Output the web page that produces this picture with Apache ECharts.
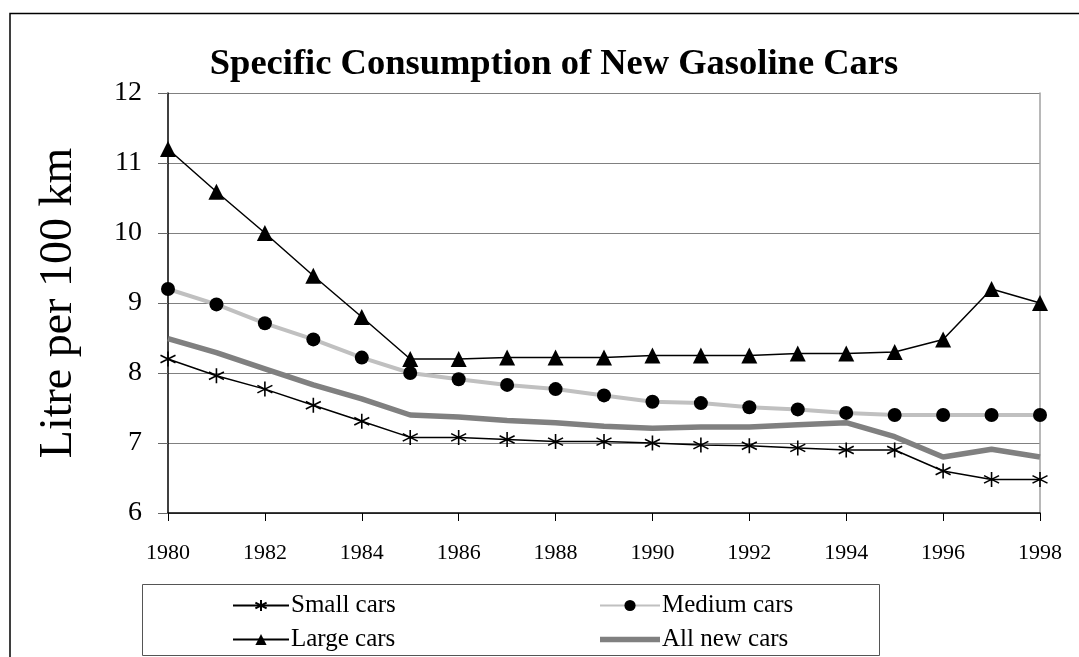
<!DOCTYPE html>
<html>
<head>
<meta charset="utf-8">
<script src="https://cdn.jsdelivr.net/npm/echarts@6/dist/echarts.min.js"></script>
<style>
  html, body { margin: 0; padding: 0; background: #fff; }
  #chart { width: 1079px; height: 657px; }
</style>
</head>
<body>
<div id="chart"></div>
<script>
// Years on the horizontal axis
const years = ['1980','1981','1982','1983','1984','1985','1986','1987','1988','1989',
               '1990','1991','1992','1993','1994','1995','1996','1997','1998'];

// Litres per 100 km for each car class
const smallCars  = [8.2, 7.96, 7.77, 7.54, 7.31, 7.08, 7.08, 7.05, 7.02, 7.02,
                    7.0, 6.97, 6.96, 6.93, 6.9, 6.9, 6.6, 6.48, 6.48];
const mediumCars = [9.2, 8.98, 8.71, 8.48, 8.22, 8.0, 7.91, 7.83, 7.77, 7.68,
                    7.59, 7.57, 7.51, 7.48, 7.43, 7.4, 7.4, 7.4, 7.4];
const largeCars  = [11.2, 10.59, 10.0, 9.39, 8.8, 8.2, 8.2, 8.22, 8.22, 8.22,
                    8.25, 8.25, 8.25, 8.28, 8.28, 8.3, 8.48, 9.2, 9.0];
const allCars    = [8.49, 8.29, 8.06, 7.83, 7.63, 7.4, 7.37, 7.32, 7.29, 7.24,
                    7.21, 7.23, 7.23, 7.26, 7.29, 7.09, 6.8, 6.91, 6.8];

const serif = '"Liberation Serif", "Times New Roman", serif';
const asterisk = 'path://M5,0L5,10M0.7,2.5L9.3,7.5M0.7,7.5L9.3,2.5';
const thickBar = 'path://M0,0H60V5.5H0Z';

const legendText = { fontFamily: serif, fontSize: 25, lineHeight: 22, color: '#000', padding: [0, 0, 0, -3] };

const chart = echarts.init(document.getElementById('chart'));
chart.setOption({
  animation: false,
  backgroundColor: '#fff',
  title: {
    text: 'Specific Consumption of New Gasoline Cars',
    left: 549,
    textAlign: 'center',
    top: 41,
    textStyle: { fontFamily: serif, fontWeight: 'bold', fontSize: 36.5, color: '#000' }
  },
  grid: { left: 168, right: 39, top: 93, bottom: 144 },
  xAxis: {
    type: 'category',
    data: years,
    boundaryGap: false,
    axisLine: { lineStyle: { color: '#000', width: 1.5 } },
    axisTick: { interval: 1, length: 8, lineStyle: { color: '#000' } },
    axisLabel: { interval: 1, margin: 29, color: '#000', fontFamily: serif, fontSize: 22 },
    splitLine: { show: false }
  },
  yAxis: [{
    type: 'value',
    min: 6, max: 12, interval: 1,
    name: 'Litre per 100 km',
    nameLocation: 'middle',
    nameRotate: 90,
    nameGap: 86,
    nameTextStyle: { fontFamily: serif, fontSize: 46, color: '#000' },
    axisLine: { show: true, lineStyle: { color: '#000', width: 1.5 } },
    axisTick: { show: true, length: 10, lineStyle: { color: '#666' } },
    axisLabel: { margin: 26, color: '#000', fontFamily: serif, fontSize: 28 },
    splitLine: { lineStyle: { color: '#808080', width: 1.2 } }
  }, {
    type: 'value',
    position: 'right',
    min: 6, max: 12, interval: 1,
    axisLine: { show: true, lineStyle: { color: '#a0a0a0', width: 1.5 } },
    axisTick: { show: false },
    axisLabel: { show: false },
    splitLine: { show: false }
  }],
  legend: [{
    data: ['Small cars', 'Large cars'],
    orient: 'vertical',
    left: 227, top: 588, height: 66,
    itemWidth: 56, itemHeight: 14, itemGap: 9,
    textStyle: legendText
  }, {
    data: ['Medium cars', { name: 'All new cars', icon: thickBar }],
    orient: 'vertical',
    left: 594, top: 588, height: 66,
    itemWidth: 60, itemHeight: 14, itemGap: 9,
    textStyle: legendText
  }],
  graphic: [{
    type: 'rect',
    shape: { x: 10, y: 13.5, width: 1100, height: 700 },
    style: { fill: 'none', stroke: '#000', lineWidth: 1.5 },
    silent: true
  }, {
    type: 'rect',
    shape: { x: 142.5, y: 584.5, width: 737, height: 71 },
    style: { fill: 'none', stroke: '#555', lineWidth: 1 },
    silent: true
  }],
  series: [{
    name: 'Small cars',
    type: 'line',
    data: smallCars,
    symbol: asterisk,
    symbolSize: 15,
    showAllSymbol: true,
    lineStyle: { color: '#000', width: 1.5 },
    itemStyle: { color: '#000', borderColor: '#000', borderWidth: 1.6 },
    z: 5
  }, {
    name: 'Medium cars',
    type: 'line',
    data: mediumCars,
    symbol: 'circle',
    symbolSize: 14,
    showAllSymbol: true,
    lineStyle: { color: '#c0c0c0', width: 4 },
    itemStyle: { color: '#000' },
    z: 4
  }, {
    name: 'Large cars',
    type: 'line',
    data: largeCars,
    symbol: 'triangle',
    symbolSize: 16,
    showAllSymbol: true,
    lineStyle: { color: '#000', width: 1.5 },
    itemStyle: { color: '#000' },
    z: 5
  }, {
    name: 'All new cars',
    type: 'line',
    data: allCars,
    symbol: 'none',
    lineStyle: { color: '#808080', width: 5.5 },
    itemStyle: { color: '#808080' },
    z: 3
  }]
});
</script>
</body>
</html>
